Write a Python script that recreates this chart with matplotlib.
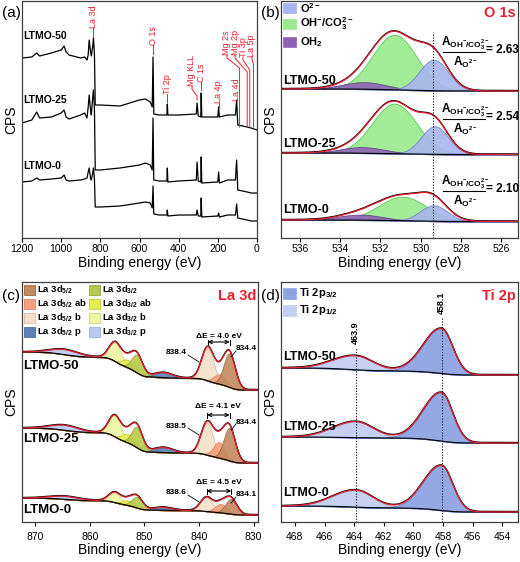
import numpy as np
import matplotlib
matplotlib.use("Agg")
import matplotlib.pyplot as plt
from matplotlib.patches import Rectangle

plt.rcParams['font.family'] = ['Liberation Sans', 'DejaVu Sans']
plt.rcParams['mathtext.fontset'] = 'custom'
plt.rcParams['mathtext.rm'] = 'Liberation Sans'
plt.rcParams['mathtext.default'] = 'regular'

W, H = 520, 562
RED = '#e8202f'

# ---------------- data ----------------
samples = ['LTMO-50', 'LTMO-25', 'LTMO-0']

# (a) survey spectra, stacked, arbitrary CPS units
survey_e = [1200, 1150, 1125, 1110, 1050, 1000, 985, 975, 960, 900, 880, 868, 862, 857,
            850, 846, 838, 835, 830, 826, 800, 700, 600, 570, 545, 535, 531, 527, 500,
            460, 458, 455, 400, 310, 306, 300, 287, 285, 282, 200, 196, 192, 150, 110,
            104, 98, 50, 30, 0]
survey_50 = [180, 181, 185, 182, 185, 188, 192, 186, 183, 180, 181, 178, 183, 198,
             186, 182, 193, 200, 183, 133, 133, 132, 138, 139, 136, 131, 181, 124, 123,
             123, 134, 123, 123, 124, 135, 122, 121, 145, 121, 121, 131, 121, 123, 123,
             138, 113, 111, 110, 108]
survey_25 = [115, 118, 126, 120, 121, 125, 128, 121, 119, 123, 125, 120, 131, 143,
             128, 123, 143, 148, 128, 68, 68, 70, 73, 75, 73, 68, 120, 58, 57,
             57, 70, 56, 57, 58, 76, 57, 56, 81, 55, 56, 66, 55, 58, 58,
             78, 48, 46, 45, 45]
survey_0 = [56, 57, 60, 58, 59, 60, 63, 58, 57, 58, 59, 60, 66, 70,
            60, 58, 66, 70, 58, 31, 31, 32, 35, 36, 35, 30, 52, 24, 23,
            23, 28, 22, 23, 23, 28, 22, 22, 40, 21, 22, 25, 21, 23, 23,
            34, 20, 18, 17, 17]
survey_peaks = ['La 3d', 'O 1s', 'Ti 2p', 'Mg KLL', 'C 1s', 'La 4p', 'La 4d',
                'Mg 2s', 'Mg 2p', 'Ti 3p', 'La 5p']
survey_peak_e = [835, 531, 458, 306, 285, 196, 104, 89, 50, 37, 18]

# (b) O 1s fit components: O2-, OH-/CO3 2-, OH2
o1s_comp = ['O$^{2-}$', 'OH$^{-}$/CO$_3^{2-}$', 'OH$_2$']
o1s_center = [[529.35, 531.3, 532.8], [529.3, 531.3, 532.9], [529.35, 530.9, 533.0]]
o1s_height = [[31, 55, 7], [28, 50, 6], [16, 24, 5.5]]
o1s_fwhm = [[1.7, 2.6, 2.6], [1.6, 2.6, 2.6], [1.6, 2.8, 2.6]]
o1s_bg = [147, 83.5, 16.5]
o1s_step = [2, 1.5, 1.5]
o1s_ratio = ['2.63', '2.54', '2.10']
o1s_ref = 529.4

# (c) La 3d fit components
la_comp = ['La 3d$_{5/2}$', 'La 3d$_{5/2}$ ab', 'La 3d$_{5/2}$ b', 'La 3d$_{5/2}$ p',
           'La 3d$_{3/2}$', 'La 3d$_{3/2}$ ab', 'La 3d$_{3/2}$ b', 'La 3d$_{3/2}$ p']
la_center = [[834.4, 836.2, 838.4, 846.5, 851.3, 853.0, 855.3, 864.5],
             [834.4, 836.3, 838.5, 846.5, 851.3, 853.0, 855.4, 864.5],
             [834.1, 836.0, 838.6, 846.5, 851.3, 853.0, 855.4, 864.5]]
la_height = [[34, 10, 33, 5, 18, 8, 19, 5],
             [33, 16, 32, 5, 21, 9, 21, 5],
             [15, 9, 14, 3, 11, 5, 10, 3]]
la_fwhm = [2.5, 2.5, 2.6, 4.0, 2.4, 2.5, 2.6, 6.0]
la_bg = [132, 59, 7]
la_step = [[13, 25], [11, 24], [5, 12]]
la_lo = [834.4, 834.4, 834.1]
la_hi = [838.4, 838.5, 838.6]

# (d) Ti 2p fit components
ti_comp = ['Ti 2p$_{3/2}$', 'Ti 2p$_{1/2}$']
ti_center = [458.1, 463.9]
ti_height = [[45, 14], [48.5, 16], [45, 17]]
ti_fwhm_lo = [1.8, 2.8]
ti_fwhm_hi = [2.9, 3.6]
ti_bg = [147, 79, 10]
ti_step = [[4, 3], [5, 1], [4, 2]]

# ---------------- helpers ----------------
def gauss(e, c, h, w):
    return h * np.exp(-4 * np.log(2) * (e - c) ** 2 / w ** 2)

def agauss(e, c, h, w_lo, w_hi):
    return gauss(e, c, h, np.where(e < c, w_lo, w_hi))

def shirley(groups, low, steps):
    bg = np.full_like(groups[0], low, dtype=float)
    for g, s in zip(groups, steps):
        cum = np.cumsum(g)
        bg += s * cum / cum[-1]
    return bg

def envelope(ax, e, bg, total):
    ax.plot(e, bg, color='k', lw=0.8)
    ax.plot(e, bg + total + 0.5, color='k', lw=1.0)
    ax.plot(e, bg + total, color=RED, lw=0.9)

fig = plt.figure(figsize=(W / 100, H / 100), dpi=100)

box_a = (22, 1, 257, 238)
box_b = (281, 1, 518, 238)
box_c = (22, 282, 258, 522)
box_d = (281, 282, 518, 522)

def add_ax(box, xlim, ticks, pad):
    l, t, r, b = box
    ax = fig.add_axes([l / W, 1 - b / H, (r - l) / W, (b - t) / H])
    ax.set_xlim(*xlim)
    ax.set_ylim(0, b - t)
    ax.set_yticks([])
    ax.set_xticks(ticks)
    ax.tick_params(axis='x', direction='out', length=3, width=0.8, labelsize=7.5, pad=pad)
    for s in ax.spines.values():
        s.set_linewidth(0.9)
        s.set_color('#404040')
    ax.set_xlabel('Binding energy (eV)', fontsize=10, labelpad=1)
    ax.set_ylabel('CPS', fontsize=10, labelpad=3)
    return ax

def frac(box, x, y):
    l, t, r, b = box
    return (x - l) / (r - l), (b - y) / (b - t)

def atext(ax, box, x, y, s, **kw):
    ax.text(*frac(box, x, y), s, transform=ax.transAxes, **kw)

def legend_box(ax, box, x0, yc, w, h, fc, ec):
    l, t, r, b = box
    fx, fy = frac(box, x0, yc + h / 2)
    ax.add_patch(Rectangle((fx, fy), w / (r - l), h / (b - t), transform=ax.transAxes,
                           fc=fc, ec=ec, lw=0.5, clip_on=False, zorder=5))

def label_samples(ax, box, x, ys, fs):
    for name, y in zip(samples, ys):
        atext(ax, box, x, y, name, fontsize=fs, fontweight='bold', va='center', ha='left')

# ---------------- (a) survey ----------------
ax = add_ax(box_a, (1200, 0), range(1200, -1, -200), 1.5)
for ys in (survey_50, survey_25, survey_0):
    ax.plot(survey_e, ys, color='k', lw=0.9)
label_samples(ax, box_a, 23, [36, 100, 166], 7.5)

def ax_a_x(px):
    return 1200 - (px - box_a[0]) * 1200 / (box_a[2] - box_a[0])

def ax_a_px(ev):
    return box_a[0] + (1200 - ev) * (box_a[2] - box_a[0]) / 1200

# label layout: text x px (None -> above peak), text bottom px, elbow px, line end px
ann_layout = [(None, 28, None, 37), (None, 45, None, 54), (None, 94, None, 102),
              (192, 86, 96, 100), (None, 82, None, 90), (None, 103, None, 107),
              (None, 101, None, None), (227, 55, 68, 127), (235, 55, 72, 127),
              (243, 57, 70, 127), (252, 57, 64, 127)]
for name, ev, (tx, tb, el, end) in zip(survey_peaks, survey_peak_e, ann_layout):
    pxp = ax_a_px(ev)
    if tx is None:
        tx = pxp
    ax.text(ax_a_x(tx), 238 - tb, name, rotation=90, color=RED, fontsize=6.5,
            ha='center', va='bottom')
    if end is None:
        continue
    if el is None:
        xs, ys = [tx, pxp], [tb, end]
    else:
        xs, ys = [tx, tx, pxp, pxp], [tb, tb + 3, el, end]
    ax.plot([ax_a_x(v) for v in xs], [238 - v for v in ys], color=RED, lw=0.7)

# ---------------- (b) O 1s ----------------
ax = add_ax(box_b, (536.94, 525.17), range(536, 525, -2), 1.5)
e = np.linspace(525.17, 536.94, 600)
o_fc = ['#a7b5ee', '#98ea8c', '#8e63b5']
o_ec = ['#6f82c6', '#52c24c', '#5e3a85']
for i in range(3):
    comps = [gauss(e, c, h, w) for c, h, w in zip(o1s_center[i], o1s_height[i], o1s_fwhm[i])]
    total = sum(comps)
    bg = shirley([total], o1s_bg[i], [o1s_step[i]])
    for k in (1, 2, 0):
        ax.fill_between(e, bg, bg + comps[k], fc=o_fc[k], ec=o_ec[k], lw=0.6, alpha=0.9)
    envelope(ax, e, bg, total)
ax.plot([o1s_ref, o1s_ref], [0, 238 - 32], color='k', lw=0.8, ls=(0, (1, 1.5)))
label_samples(ax, box_b, 283, [81, 144, 210], 9)
for k, yc in enumerate([8, 24, 42]):
    legend_box(ax, box_b, 283, yc, 13, 10, o_fc[k], o_fc[k])
    atext(ax, box_b, 300, yc, o1s_comp[k], fontsize=8, fontweight='bold', va='center')
atext(ax, box_b, 516, 13, 'O 1s', color=RED, fontsize=10.5, fontweight='bold',
      ha='right', va='center')
for ratio, yl in zip(o1s_ratio, [52, 119, 191]):
    x0, y0 = frac(box_b, 443, yl)
    x1, _ = frac(box_b, 485, yl)
    ax.plot([x0, x1], [y0, y0], color='k', lw=0.8, transform=ax.transAxes)
    atext(ax, box_b, 465, yl - 9, '$A_{OH^{-}/CO_3^{2-}}$', fontsize=8.5,
          fontweight='bold', ha='center', va='center')
    atext(ax, box_b, 465, yl + 10, '$A_{O^{2-}}$', fontsize=8.5,
          fontweight='bold', ha='center', va='center')
    atext(ax, box_b, 486, yl - 2, '= ' + ratio, fontsize=8.5,
          fontweight='bold', ha='left', va='center')

# ---------------- (c) La 3d ----------------
ax = add_ax(box_c, (872.4, 829.2), range(870, 829, -10), 4)
e = np.linspace(829.2, 872.4, 900)
la_fc = ['#c3895d', '#f4a07c', '#f6dfc8', '#5d80b8', '#b7c94a', '#e3ee4c', '#eef7a2', '#b9c9ef']
la_ec = ['#8a5a35', '#d9775a', '#d2b394', '#3c5f95', '#8a9a2a', '#b7c228', '#c5d070', '#8ea3d8']
for i in range(3):
    comps = [gauss(e, c, h, w) for c, h, w in zip(la_center[i], la_height[i], la_fwhm)]
    total = sum(comps)
    bg = shirley([sum(comps[:4]), sum(comps[4:])], la_bg[i], la_step[i])
    for k in (7, 3, 6, 5, 4, 2, 1, 0):
        ax.fill_between(e, bg, bg + comps[k], fc=la_fc[k], ec=la_ec[k], lw=0.5, alpha=0.9)
    envelope(ax, e, bg, total)
label_samples(ax, box_c, 23, [366, 439, 510], 9.5)
for k in range(8):
    col, row = divmod(k, 4)
    yc = [290, 304, 318, 332][row]
    xb = [24, 89][col]
    legend_box(ax, box_c, xb, yc, 11, 10, la_fc[k], la_ec[k])
    atext(ax, box_c, xb + 13, yc, la_comp[k], fontsize=6.8, fontweight='bold', va='center')
atext(ax, box_c, 256, 296, 'La 3d', color=RED, fontsize=10.5, fontweight='bold',
      ha='right', va='center')
for i, (yt, ya, yhi, ylo) in enumerate([(337, 342, 353, 349), (407, 415, 426, 422),
                                        (482, 491, 493, 495)]):
    hi, lo = la_hi[i], la_lo[i]
    y_arrow = 522 - ya
    ax.annotate('', xy=(lo, y_arrow), xytext=(hi, y_arrow),
                arrowprops=dict(arrowstyle='<->', lw=0.8, color='k', mutation_scale=6,
                                shrinkA=0, shrinkB=0))
    for v in (hi, lo):
        ax.plot([v, v], [y_arrow - 2.5, y_arrow + 2.5], color='k', lw=0.7)
    ax.text((hi + lo) / 2, 522 - yt, '\u0394E = %.1f eV' % (hi - lo), fontsize=6,
            fontweight='bold', ha='center', va='center')
    atext(ax, box_c, 187, yhi, '%.1f' % hi, fontsize=6, fontweight='bold',
          ha='right', va='center')
    atext(ax, box_c, 236, ylo, '%.1f' % lo, fontsize=6, fontweight='bold',
          ha='left', va='center')
    x0, y0 = frac(box_c, 188, yhi + 2)
    x1, y1 = frac(box_c, 199, yhi + 9)
    ax.plot([x0, x1], [y0, y1], color='k', lw=0.6, transform=ax.transAxes)
    x0, y0 = frac(box_c, 236, ylo + 2)
    x1, y1 = frac(box_c, 231, ylo + 8)
    ax.plot([x0, x1], [y0, y1], color='k', lw=0.6, transform=ax.transAxes)

# ---------------- (d) Ti 2p ----------------
ax = add_ax(box_d, (468.94, 452.94), range(468, 453, -2), 4)
e = np.linspace(452.94, 468.94, 700)
ti_fc = ['#8ea3e3', '#c3cff2']
ti_ec = ['#5f76c0', '#8fa2d8']
for i in range(3):
    comps = [agauss(e, c, h, wl, wh) for c, h, wl, wh in
             zip(ti_center, ti_height[i], ti_fwhm_lo, ti_fwhm_hi)]
    total = sum(comps)
    bg = shirley(comps, ti_bg[i], ti_step[i])
    for k in (1, 0):
        ax.fill_between(e, bg, bg + comps[k], fc=ti_fc[k], ec=ti_ec[k], lw=0.6, alpha=0.95)
    envelope(ax, e, bg, total)
for c, ytop, ytxt in zip(ti_center, [318, 348], [303, 333]):
    ax.plot([c, c], [0, 522 - ytop], color='k', lw=0.8, ls=(0, (1, 1.5)))
    ax.text(c, 522 - ytxt, '%.1f' % c, rotation=90, fontsize=6.5, fontweight='bold',
            ha='center', va='center')
label_samples(ax, box_d, 283, [357, 427, 493], 9)
for k, yc in enumerate([293, 310]):
    legend_box(ax, box_d, 283, yc, 13, 11, ti_fc[k], ti_fc[k])
    atext(ax, box_d, 299, yc, ti_comp[k], fontsize=8, fontweight='bold', va='center')
atext(ax, box_d, 516, 296, 'Ti 2p', color=RED, fontsize=10.5, fontweight='bold',
      ha='right', va='center')

for s, x, y in [('(a)', 2, 13), ('(b)', 261, 13), ('(c)', 2, 296), ('(d)', 261, 296)]:
    fig.text(x / W, 1 - y / H, s, fontsize=11, va='center', ha='left')

fig.savefig('out.png', dpi=100)
